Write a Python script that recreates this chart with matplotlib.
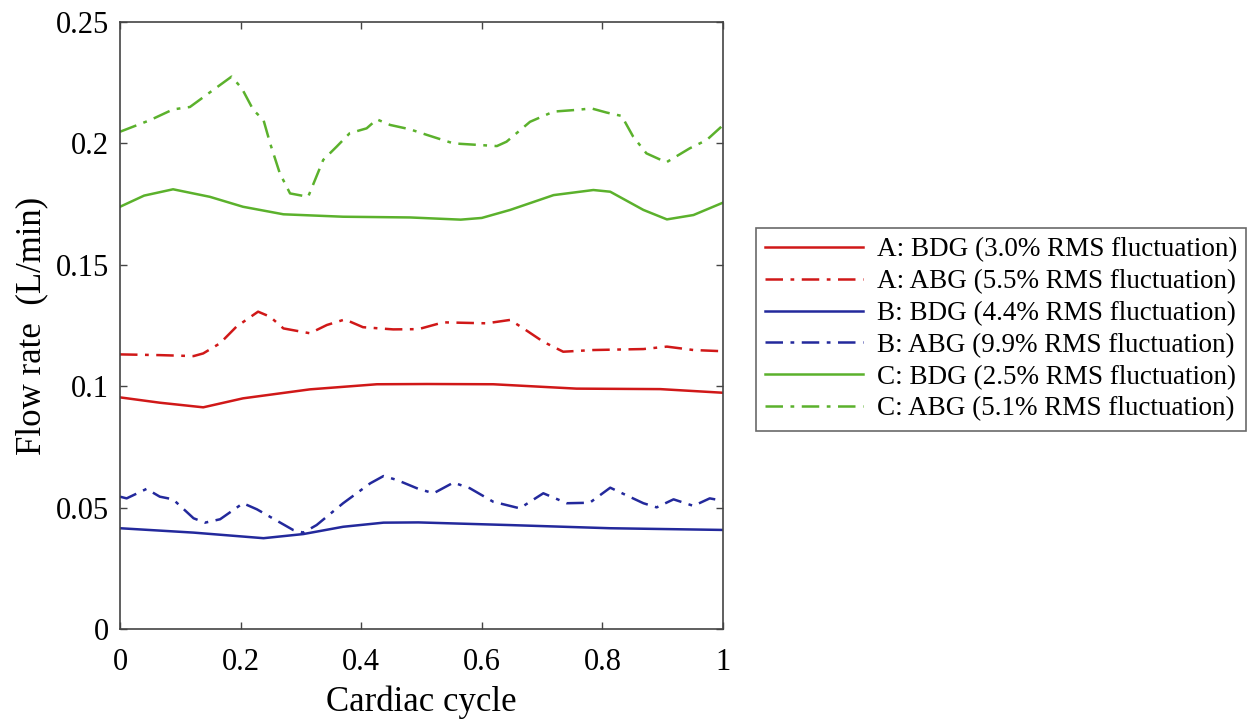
import numpy as np
import matplotlib
matplotlib.use("Agg")
import matplotlib.pyplot as plt

plt.rcParams['font.family'] = ['Liberation Serif', 'DejaVu Serif']

# C: ABG (green dash-dot)
c_abg_x = [0, 0.05, 0.088, 0.116, 0.149, 0.185, 0.202, 0.221, 0.238, 0.249, 0.265, 0.282,
           0.312, 0.337, 0.359, 0.381, 0.409, 0.426, 0.448, 0.481, 0.509, 0.553, 0.625,
           0.641, 0.680, 0.719, 0.757, 0.782, 0.807, 0.832, 0.851, 0.873, 0.906, 0.945,
           0.973, 1.0]
c_abg_y = [0.2048, 0.2096, 0.2140, 0.2150, 0.2210, 0.2275, 0.2227, 0.2138, 0.2096, 0.2000,
           0.1877, 0.1794, 0.1780, 0.1932, 0.1986, 0.2042, 0.2062, 0.2099, 0.2076, 0.2058,
           0.2035, 0.2000, 0.1989, 0.2007, 0.2089, 0.2131, 0.2138, 0.2144, 0.2127, 0.2113,
           0.2028, 0.1959, 0.1922, 0.1980, 0.2014, 0.2075]

# C: BDG (green solid)
c_bdg_x = [0, 0.04, 0.088, 0.149, 0.204, 0.271, 0.370, 0.481, 0.565, 0.600, 0.647, 0.719,
           0.785, 0.813, 0.868, 0.907, 0.951, 1.0]
c_bdg_y = [0.1739, 0.1785, 0.1811, 0.1780, 0.1739, 0.1708, 0.1698, 0.1695, 0.1686, 0.1693,
           0.1726, 0.1787, 0.1808, 0.1801, 0.1726, 0.1687, 0.1705, 0.1756]

# A: ABG (red dash-dot)
a_abg_x = [0, 0.066, 0.122, 0.138, 0.166, 0.193, 0.229, 0.249, 0.271, 0.315, 0.343, 0.373,
           0.403, 0.453, 0.495, 0.536, 0.608, 0.647, 0.669, 0.702, 0.735, 0.785, 0.868,
           0.907, 0.951, 1.0]
a_abg_y = [0.1131, 0.1128, 0.1124, 0.1135, 0.1177, 0.1245, 0.1307, 0.1286, 0.1238, 0.1218,
           0.1252, 0.1275, 0.1243, 0.1234, 0.1235, 0.1263, 0.1259, 0.1273, 0.1238, 0.1183,
           0.1142, 0.1149, 0.1153, 0.1163, 0.1149, 0.1144]

# A: BDG (red solid)
a_bdg_x = [0, 0.066, 0.138, 0.204, 0.315, 0.426, 0.509, 0.619, 0.757, 0.896, 1.0]
a_bdg_y = [0.0954, 0.0932, 0.0913, 0.0950, 0.0987, 0.1008, 0.1009, 0.1008, 0.0990, 0.0988,
           0.0973]

# B: ABG (blue dash-dot)
b_abg_x = [0, 0.011, 0.044, 0.066, 0.088, 0.122, 0.141, 0.166, 0.204, 0.227, 0.287, 0.304,
           0.326, 0.370, 0.415, 0.437, 0.459, 0.495, 0.520, 0.553, 0.580, 0.619, 0.663,
           0.702, 0.741, 0.779, 0.813, 0.868, 0.890, 0.918, 0.951, 0.978, 1.0]
b_abg_y = [0.0545, 0.0538, 0.0577, 0.0545, 0.0534, 0.0456, 0.0438, 0.0452, 0.0518, 0.0493,
           0.0408, 0.0397, 0.0428, 0.0518, 0.0600, 0.0630, 0.0614, 0.0577, 0.0559, 0.0603,
           0.0580, 0.0524, 0.0497, 0.0559, 0.0518, 0.0520, 0.0582, 0.0518, 0.0501, 0.0534,
           0.0507, 0.0538, 0.0528]

# B: BDG (blue solid)
b_bdg_x = [0, 0.122, 0.238, 0.304, 0.370, 0.437, 0.495, 0.647, 0.813, 1.0]
b_bdg_y = [0.0415, 0.0397, 0.0374, 0.0391, 0.0421, 0.0438, 0.0439, 0.0428, 0.0415, 0.0408]

red = '#d01818'
blue = '#23299c'
green = '#5bb12c'
dashdot = (0, (7, 3, 1.5, 3))

series = [
    (a_bdg_x, a_bdg_y, red, '-', 'A: BDG (3.0% RMS fluctuation)'),
    (a_abg_x, a_abg_y, red, dashdot, 'A: ABG (5.5% RMS fluctuation)'),
    (b_bdg_x, b_bdg_y, blue, '-', 'B: BDG (4.4% RMS fluctuation)'),
    (b_abg_x, b_abg_y, blue, dashdot, 'B: ABG (9.9% RMS fluctuation)'),
    (c_bdg_x, c_bdg_y, green, '-', 'C: BDG (2.5% RMS fluctuation)'),
    (c_abg_x, c_abg_y, green, dashdot, 'C: ABG (5.1% RMS fluctuation)'),
]

fig = plt.figure(figsize=(12.56, 7.22), dpi=100)
ax = fig.add_axes([120 / 1256, 1 - 629 / 722, 603 / 1256, 607 / 722])

for xs, ys, col, ls, lab in series:
    ax.plot(xs, ys, color=col, linestyle=ls, linewidth=1.8, label=lab)

ax.set_xlim(0, 1)
ax.set_ylim(0, 0.25)
ax.set_xticks([0, 0.2, 0.4, 0.6, 0.8, 1])
ax.set_xticklabels(['0', '0.2', '0.4', '0.6', '0.8', '1'])
ax.set_yticks([0, 0.05, 0.1, 0.15, 0.2, 0.25])
ax.set_yticklabels(['0', '0.05', '0.1', '0.15', '0.2', '0.25'])
ax.tick_params(direction='in', length=5, width=1, top=True, right=True,
               labelsize=22, color='#444444')
ax.tick_params(axis='x', pad=14)
ax.tick_params(axis='y', pad=8)
for sp in ax.spines.values():
    sp.set_color('#444444')
    sp.set_linewidth(1.2)

ax.set_xlabel('Cardiac cycle', fontsize=25, labelpad=6)
ax.set_ylabel('Flow rate  (L/min)', fontsize=25, labelpad=5)

leg = fig.legend(loc='upper left', bbox_to_anchor=(756 / 1256, 1 - 228 / 722),
                 fontsize=19.5, frameon=True, fancybox=False, edgecolor='#444444',
                 handlelength=3.6, borderaxespad=0, borderpad=0.35,
                 labelspacing=0.25, handletextpad=0.5)
leg.get_frame().set_linewidth(1.2)

fig.savefig('out.png', dpi=100)
